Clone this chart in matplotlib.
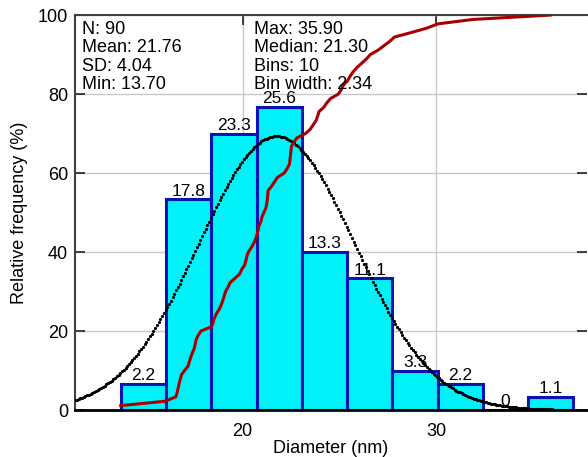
import matplotlib
matplotlib.use("Agg")
import matplotlib.pyplot as plt
import numpy as np

plt.rcParams["font.family"] = ["Liberation Sans", "DejaVu Sans"]
plt.rcParams["font.size"] = 13

# Sorted diameters (nm)
diameters = [
    13.70, 16.00,
    16.55, 16.62, 16.67, 16.72, 16.78, 16.84, 17.00, 17.18,
    17.25, 17.32, 17.40, 17.50, 17.55, 17.60, 17.70, 17.85,
    18.40, 18.48, 18.55, 18.65, 18.80, 18.90, 18.98, 19.05,
    19.12, 19.25, 19.35, 19.60, 19.85, 19.95, 20.10, 20.17,
    20.22, 20.30, 20.45, 20.58, 20.68,
    20.75, 20.80, 20.85, 20.95, 21.00, 21.10, 21.20, 21.25,
    21.28, 21.30, 21.32, 21.50, 21.65, 21.80, 22.15, 22.30,
    22.42, 22.45, 22.47, 22.50, 22.52, 22.65, 22.80,
    23.25, 23.50, 23.65, 23.80, 23.88, 23.95, 24.20, 24.35,
    24.55, 24.95, 25.10, 25.20,
    25.42, 25.55, 25.70, 25.90, 26.15, 26.40, 26.60, 27.00,
    27.30, 27.60,
    27.85, 28.70, 29.50,
    30.10, 31.90,
    35.90,
]

# Histogram summary shown in the chart
n_points = 90
mean_d = 21.76
sd_d = 4.04
min_d = 13.70
max_d = 35.90
median_d = 21.30
n_bins = 10
bin_width = 2.34
counts = [2, 16, 21, 23, 12, 10, 3, 2, 0, 1]

bar_scale = 100 / 30  # bar heights are drawn as count * 100/30

edges = min_d + bin_width * np.arange(n_bins + 1)
heights = np.array(counts) * bar_scale
pct = np.array(counts) / n_points * 100
labels = ["0" if c == 0 else f"{p:.1f}" for c, p in zip(counts, pct)]

fig = plt.figure(figsize=(5.88, 4.57), dpi=100)
ax = fig.add_axes([0.1276, 0.1028, 0.8707, 0.8642])

ax.bar(edges[:-1], heights, width=bin_width, align="edge",
       color="#00f2f8", edgecolor="#0a14b4", linewidth=2.2, zorder=2)

for x0, h, lab in zip(edges[:-1], heights, labels):
    ax.text(x0 + bin_width / 2, h + 0.2, lab, ha="center", va="bottom",
            fontsize=12.5, zorder=5)

# fitted normal curve, drawn as dense points (looks dotted where steep)
xs = np.arange(11.34, 37.1, 0.09)
norm = n_points * bin_width * bar_scale / (sd_d * np.sqrt(2 * np.pi)) \
    * np.exp(-0.5 * ((xs - mean_d) / sd_d) ** 2)
ax.plot(xs, norm, "o", color="black", markersize=2.3, markeredgewidth=0,
        zorder=3)

# cumulative curve
d_sorted = np.sort(diameters)
cum = np.arange(1, len(d_sorted) + 1) / len(d_sorted) * 100
ax.plot(d_sorted, cum, color="#a80000", linewidth=2.2, zorder=4)

ax.set_xlim(11.34, 37.8)
ax.set_ylim(0, 100)
ax.set_xticks([20, 30])
ax.set_yticks([0, 20, 40, 60, 80, 100])
ax.grid(True, color="#c8c8c8", linewidth=1, zorder=0)
ax.set_axisbelow(True)
ax.tick_params(direction="in", length=7, width=1.3, color="#303030",
               top=True, right=True, labelsize=13, pad=5)
ax.tick_params(axis="x", pad=9)
for side in ["top", "left"]:
    ax.spines[side].set_color("#404040")
    ax.spines[side].set_linewidth(1.5)
ax.spines["bottom"].set_color("black")
ax.spines["bottom"].set_linewidth(2)
ax.spines["right"].set_visible(False)

ax.set_xlabel("Diameter (nm)", fontsize=13, labelpad=0)
ax.set_ylabel("Relative frequency (%)", fontsize=13, labelpad=7)

left_txt = (f"N: {n_points}\nMean: {mean_d:.2f}\n"
            f"SD: {sd_d:.2f}\nMin: {min_d:.2f}")
right_txt = (f"Max: {max_d:.2f}\nMedian: {median_d:.2f}\n"
             f"Bins: {n_bins}\nBin width: {bin_width:.2f}")
ax.text(0.013, 0.985, left_txt, transform=ax.transAxes, ha="left", va="top",
        fontsize=13, linespacing=1.1, zorder=6)
ax.text(0.35, 0.985, right_txt, transform=ax.transAxes, ha="left", va="top",
        fontsize=13, linespacing=1.1, zorder=6)

fig.savefig("out.png", dpi=100)
